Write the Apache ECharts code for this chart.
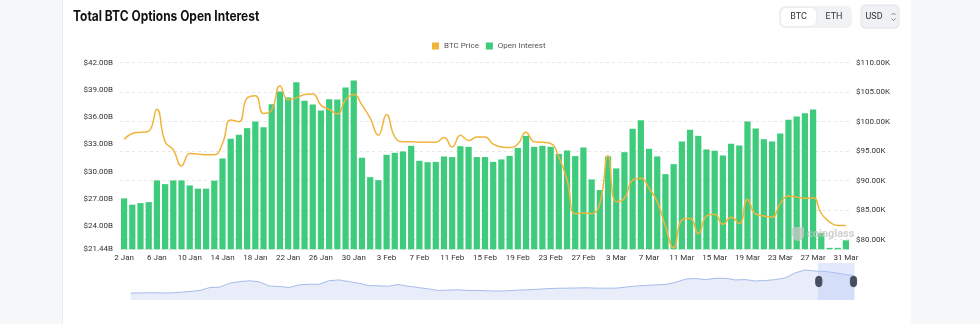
<!DOCTYPE html>
<html>
<head>
<meta charset="utf-8">
<script src="https://cdn.jsdelivr.net/npm/echarts@6/dist/echarts.min.js"></script>
<style>
  html, body { margin: 0; padding: 0; background: #f6f7f9; }
  #card { position: absolute; left: 62px; top: 0; width: 848px; height: 324px; background: #ffffff; border-left: 1px solid #ebebeb; }
  #chart { position: absolute; left: 0; top: 0; width: 980px; height: 324px; }
</style>
</head>
<body>
<div id="card"></div>
<div id="chart"></div>
<script>
// ---- data ----
const monthSpans = [['Jan', 2, 31], ['Feb', 1, 28], ['Mar', 1, 31]];
const categories = [];
monthSpans.forEach(function (m) { for (let d = m[1]; d <= m[2]; d++) categories.push(d + ' ' + m[0]); });

// Open interest, billions USD (2 Jan .. 31 Mar)
const oiJan = [27.05, 26.36, 26.53, 26.64, 29.03, 28.62, 29.03, 29.03, 28.48, 28.12, 28.12, 29.0, 31.45, 33.62, 34.06, 34.79, 35.52, 34.89, 37.42, 38.82, 38.16, 39.84, 37.8, 37.39, 36.73, 37.97, 37.94, 39.26, 40.03, 31.53];
const oiFeb = [29.39, 29.06, 31.85, 32.07, 32.22, 32.84, 31.19, 31.04, 31.07, 31.67, 31.6, 32.8, 32.73, 31.6, 31.6, 31.07, 31.34, 31.74, 32.62, 33.94, 32.73, 32.84, 32.73, 31.96, 32.33, 31.71, 32.66, 29.14];
const oiMar = [27.97, 31.67, 30.35, 32.14, 34.72, 35.66, 32.52, 31.67, 29.72, 30.82, 33.32, 34.61, 33.94, 32.44, 32.3, 31.78, 33.07, 32.88, 35.52, 34.75, 33.57, 33.32, 34.2, 35.71, 36.07, 36.43, 36.84, 23.23, 21.6, 21.6, 22.43];
const openInterest = oiJan.concat(oiFeb, oiMar);

// BTC price, thousands USD
const pxJan = [97.0, 98.0, 98.2, 98.4, 102.1, 96.6, 95.2, 92.5, 94.6, 94.5, 94.4, 94.4, 96.3, 100.3, 100.0, 104.0, 104.4, 101.4, 102.0, 106.1, 103.7, 104.0, 104.6, 104.7, 102.8, 102.1, 101.3, 103.7, 104.6, 102.8];
const pxFeb = [100.6, 97.7, 101.2, 97.4, 96.6, 96.6, 96.5, 96.5, 96.5, 97.3, 95.7, 97.7, 96.8, 97.4, 97.4, 96.2, 95.7, 95.6, 96.2, 98.2, 96.6, 96.5, 96.3, 94.0, 90.1, 84.4, 84.5, 84.4];
const pxMar = [86.1, 94.2, 86.4, 87.0, 90.1, 90.4, 88.7, 86.4, 82.2, 78.6, 83.3, 83.6, 81.0, 84.0, 84.3, 82.6, 83.8, 82.7, 86.8, 84.3, 84.0, 83.8, 86.1, 87.4, 87.2, 87.0, 87.1, 84.4, 83.0, 82.4, 82.4];
const btcPrice = pxJan.concat(pxFeb, pxMar);

// Long-range open interest history shown in the zoom slider overview (billions USD)
const historyOI = [1.0, 1.27, 1.55, 1.27, 1.27, 2.26, 3.75, 5.39, 10.3, 10.9, 17.5, 20.2, 21.6, 19.7, 12.8, 12.0, 10.3, 14.7, 15.8, 15.6, 21.6, 23.0, 20.2, 17.5, 13.6, 13.1, 12.5, 15.3, 12.5, 10.3, 8.1, 5.4, 5.9, 6.5, 5.4, 5.4, 4.8, 4.3, 4.8, 5.9, 6.5, 7.3, 8.4, 9.0, 9.2, 9.5, 9.8, 9.2, 9.2, 9.2, 11.2, 12.8, 13.9, 14.7, 15.6, 19.1, 24.6, 25.2, 23.5, 25.7, 25.7, 23.0, 23.5, 21.3, 21.9, 23.5, 26.3, 34.5, 39.7, 37.8, 37.3, 35.1, 32.3, 30.1];
const historyIdx = historyOI.map(function (v, i) { return i; });

const leftTickFmt = function (v) { return '$' + v.toFixed(2) + 'B'; };
const rightTickFmt = function (v) { return '$' + v.toFixed(2) + 'K'; };

const FONT = 'Roboto, "Noto Sans", sans-serif';
const chart = echarts.init(document.getElementById('chart'), null, { renderer: 'canvas' });

const option = {
  animation: false,
  backgroundColor: 'transparent',
  textStyle: { fontFamily: FONT },
  legend: {
    data: ['BTC Price', 'Open Interest'],
    left: 432, top: 42, padding: 0,
    icon: 'rect', itemWidth: 7, itemHeight: 7, itemGap: 7,
    textStyle: { fontSize: 8, color: '#555', fontFamily: FONT }
  },
  grid: [
    { left: 120, right: 130, top: 62.7, bottom: 74.7 },
    { left: 0, top: -400, width: 50, height: 50, show: false }
  ],
  xAxis: [
    {
      type: 'category', data: categories, boundaryGap: true,
      axisTick: { show: false }, axisLine: { show: false },
      axisLabel: { interval: 3, fontSize: 8, color: '#333', margin: 5, fontFamily: FONT }
    },
    { type: 'category', gridIndex: 1, data: historyIdx, show: false }
  ],
  yAxis: [
    {
      type: 'value', position: 'left', min: 21.44, max: 42, splitNumber: 7,
      axisLine: { show: false }, axisTick: { show: false }, splitLine: { show: false },
      axisLabel: { formatter: leftTickFmt, fontSize: 8, color: '#333', margin: 7, fontFamily: FONT }
    },
    {
      type: 'value', position: 'right', min: 78.35, max: 110, splitNumber: 7,
      axisLine: { show: false }, axisTick: { show: false },
      splitLine: { show: true, lineStyle: { type: [3, 3], color: '#e8e8e8', width: 1 } },
      axisLabel: { formatter: rightTickFmt, showMinLabel: false, fontSize: 8, color: '#333', margin: 6, fontFamily: FONT }
    },
    { type: 'value', gridIndex: 1, show: false }
  ],
  dataZoom: [{
    type: 'slider', xAxisIndex: 1, start: 94.93, end: 100,
    left: 128, right: 128, top: 263, height: 37,
    showDetail: false, brushSelect: false, moveHandleSize: 0, zoomLock: false,
    borderColor: 'transparent', backgroundColor: 'transparent',
    fillerColor: 'rgba(178,198,246,0.38)',
    showDataShadow: true,
    dataBackground: {
      lineStyle: { color: '#a7bbec', width: 1, opacity: 1 },
      areaStyle: { color: '#e8edf9', opacity: 1 }
    },
    selectedDataBackground: {
      lineStyle: { color: '#a7bbec', width: 1, opacity: 1 },
      areaStyle: { color: '#e8edf9', opacity: 1 }
    },
    handleIcon: 'path://M3,0 A3,3 0 0 1 6,3 L6,7 A3,3 0 0 1 0,7 L0,3 A3,3 0 0 1 3,0 Z',
    handleSize: '28%',
    handleStyle: { color: '#474e5e', borderColor: '#474e5e', borderWidth: 1 },
    moveHandleStyle: { opacity: 0 },
    emphasis: { handleStyle: { color: '#474e5e', borderColor: '#474e5e' }, moveHandleStyle: { opacity: 0 } }
  }],
  graphic: [
    { type: 'text', x: 73, y: 17, scaleX: 0.855, style: { text: 'Total BTC Options Open Interest', font: 'bold 14px Inter, Roboto, sans-serif', fill: '#111', verticalAlign: 'middle' } },
    // BTC / ETH toggle
    { type: 'rect', shape: { x: 779, y: 6, width: 73, height: 22, r: 6 }, style: { fill: '#f1f2f4' } },
    { type: 'rect', shape: { x: 781, y: 8, width: 35, height: 18, r: 5 }, style: { fill: '#ffffff', shadowBlur: 2, shadowColor: 'rgba(0,0,0,0.08)' } },
    { type: 'text', x: 798.5, y: 17, style: { text: 'BTC', fontSize: 9, fill: '#333', align: 'center', verticalAlign: 'middle', fontFamily: FONT } },
    { type: 'text', x: 834, y: 17, style: { text: 'ETH', fontSize: 9, fill: '#333', align: 'center', verticalAlign: 'middle', fontFamily: FONT } },
    // USD selector
    { type: 'rect', shape: { x: 861, y: 5, width: 38, height: 23, r: 4 }, style: { fill: '#eff1f4', stroke: '#e2e4e8', lineWidth: 1 } },
    { type: 'text', x: 874, y: 16.5, style: { text: 'USD', fontSize: 9, fill: '#333', align: 'center', verticalAlign: 'middle', fontFamily: FONT } },
    { type: 'polyline', shape: { points: [[891.5, 15], [893.5, 13], [895.5, 15]] }, style: { stroke: '#777', lineWidth: 0.9, fill: null } },
    { type: 'polyline', shape: { points: [[891.5, 18.5], [893.5, 20.5], [895.5, 18.5]] }, style: { stroke: '#777', lineWidth: 0.9, fill: null } },
    // watermark
    { type: 'rect', z: 100, shape: { x: 792, y: 227, width: 12, height: 14, r: [2, 2, 6, 6] }, style: { fill: 'rgba(200,200,200,0.75)' } },
    { type: 'text', z: 100, x: 807, y: 234, style: { text: 'coinglass', font: 'bold 11px Roboto, sans-serif', fill: 'rgba(195,195,195,0.8)', verticalAlign: 'middle' } }
  ],
  series: [
    {
      name: 'Open Interest', type: 'bar', xAxisIndex: 0, yAxisIndex: 0, data: openInterest,
      barCategoryGap: '24%', itemStyle: { color: '#3ecb7c' }
    },
    {
      name: 'BTC Price', type: 'line', xAxisIndex: 0, yAxisIndex: 1, data: btcPrice,
      smooth: true, symbol: 'none', showSymbol: false,
      lineStyle: { color: '#f0b43c', width: 1.5 }, itemStyle: { color: '#f0b43c' }
    },
    {
      name: 'history', type: 'line', xAxisIndex: 1, yAxisIndex: 2, data: historyOI,
      symbol: 'none', silent: true, lineStyle: { opacity: 0 }
    }
  ]
};
chart.setOption(option);
</script>
</body>
</html>
